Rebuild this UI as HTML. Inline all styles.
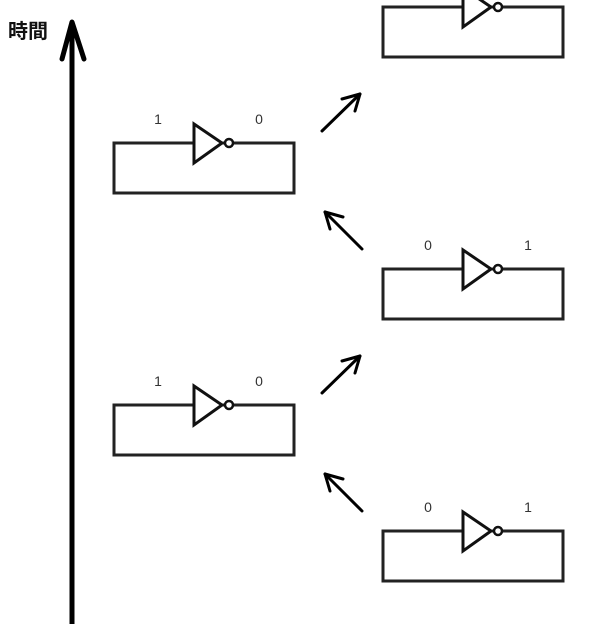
<!DOCTYPE html>
<html><head><style>body{margin:0;background:#fff}svg{display:block}</style></head><body>
<svg width="610" height="624" viewBox="0 0 610 624" xmlns="http://www.w3.org/2000/svg">
<defs>
<g id="inv">
<rect x="0" y="0" width="180" height="50" fill="none" stroke="#222" stroke-width="3"/>
<polygon points="80,-19 80,20 108,0" fill="#fff" stroke="#111" stroke-width="3" stroke-linejoin="miter"/>
<circle cx="115" cy="0" r="4" fill="#fff" stroke="#111" stroke-width="2.5"/>
</g>
</defs>
<text x="8" y="38" font-family="'Liberation Sans','Noto Sans CJK JP',sans-serif" font-weight="bold" font-size="20" fill="#111">時間</text>
<line x1="72" y1="624" x2="72" y2="24" stroke="#000" stroke-width="5"/>
<polyline points="62,59 72,22 84,59" fill="none" stroke="#000" stroke-width="5" stroke-linecap="round" stroke-linejoin="round"/>
<g font-family="'Liberation Sans',sans-serif" font-size="14" fill="#333" text-anchor="middle">
<use href="#inv" x="114" y="143"/>
<text x="158" y="124">1</text><text x="259" y="124">0</text>
<use href="#inv" x="114" y="405"/>
<text x="158" y="386">1</text><text x="259" y="386">0</text>
<use href="#inv" x="383" y="7"/>
<use href="#inv" x="383" y="269"/>
<text x="428" y="250">0</text><text x="528" y="250">1</text>
<use href="#inv" x="383" y="531"/>
<text x="428" y="512">0</text><text x="528" y="512">1</text>
</g>
<g fill="none" stroke="#000" stroke-width="3" stroke-linecap="round" stroke-linejoin="round">
<line x1="322" y1="131" x2="360" y2="94"/><polyline points="342,99 360,94 355,111"/>
<line x1="362" y1="249" x2="325" y2="212"/><polyline points="343,217 325,212 330,229"/>
<line x1="322" y1="393" x2="360" y2="356"/><polyline points="342,361 360,356 355,373"/>
<line x1="362" y1="511" x2="325" y2="474"/><polyline points="343,479 325,474 330,491"/>
</g>
</svg>
</body></html>
